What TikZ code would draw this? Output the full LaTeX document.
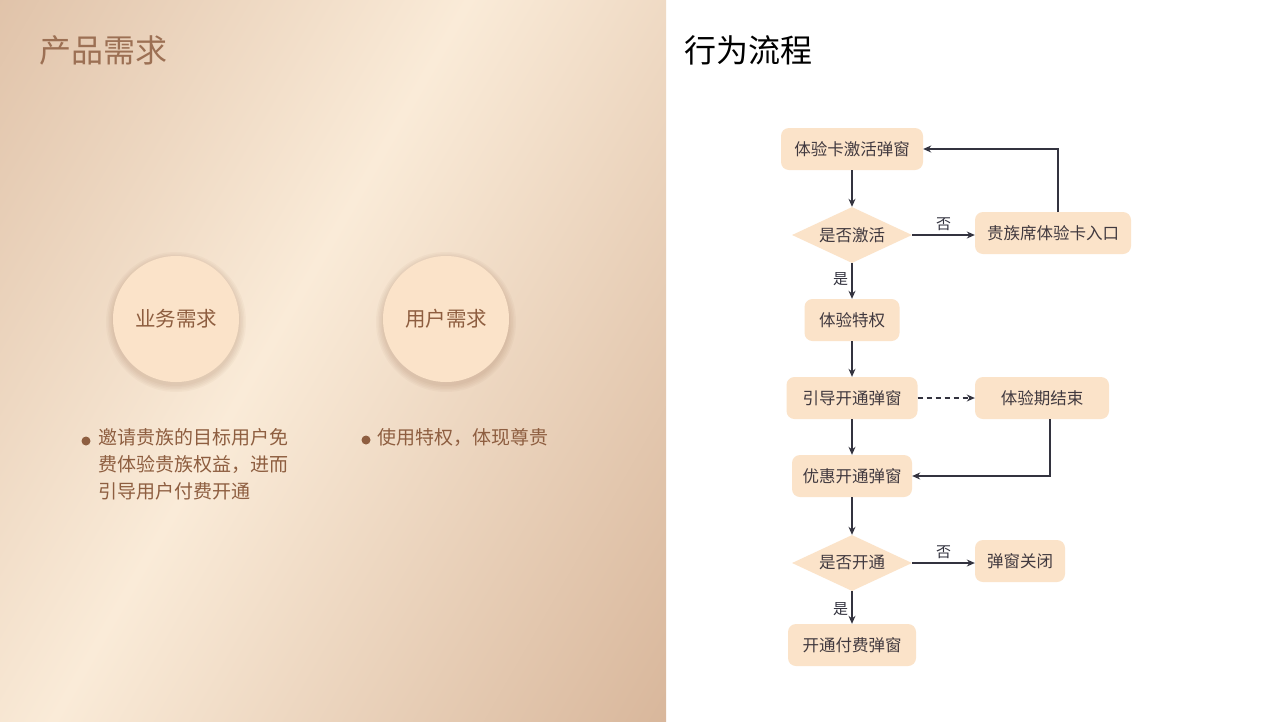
\documentclass[tikz,border=0pt]{standalone}
\usepackage{fontspec}
\setmainfont{Noto Sans CJK SC}
\usetikzlibrary{shapes.geometric,arrows.meta}
\definecolor{tan}{HTML}{CBA283}
\definecolor{cream}{HTML}{FAEBD8}
\definecolor{boxf}{HTML}{FBE3C9}
\definecolor{brown}{HTML}{8E5E40}
\definecolor{ttl}{HTML}{9C7054}
\definecolor{ink}{HTML}{33333F}
\begin{document}
\begin{tikzpicture}[x=1pt,y=-1pt,
  fbox/.style={fill=boxf,rounded corners=8pt,minimum height=42pt,font=\fontsize{16.5}{19}\selectfont,text=ink!85!brown,inner xsep=0pt},
  fdia/.style={diamond,aspect=2.15,fill=boxf,minimum width=120pt,minimum height=56pt,inner sep=0pt,font=\fontsize{16.5}{19}\selectfont,text=ink!85!brown},
  arr/.style={-{Stealth[length=8pt,width=7pt]},draw=ink,line width=1.2pt},
  lab/.style={font=\fontsize{15}{17}\selectfont,text=ink},
  circ/.style={circle,fill=boxf,minimum size=126pt,font=\fontsize{20.5}{24}\selectfont,text=brown},
  halo/.style={fill=brown,fill opacity=0.045},
  bul/.style={font=\fontsize{19}{27}\selectfont,text=brown,anchor=north west,align=left,inner sep=0pt}]
\useasboundingbox (0,0) rectangle (1280,721);
\fill[white] (0,0) rectangle (1280,721);
\begin{scope}
\clip (0,0) rectangle (666,721);
\shade[left color=tan,right color=tan,middle color=cream,shading angle=60] (-460,-440) rectangle (1040,1060);
\end{scope}
\node[anchor=west,font=\fontsize{32}{36}\selectfont,text=ttl] (t1) at (36,50) {产品需求};
\node[anchor=west,font=\fontsize{32}{36}\selectfont,text=black] (t2) at (681,50) {行为流程};
\foreach \cx in {176,446}{
  \foreach \r in {64,65.5,67,68.5,70}{\fill[halo] (\cx,322) circle (\r pt);}
}
\node[circ] (c1) at (176,319) {业务需求};
\node[circ] (c2) at (446,319) {用户需求};
\fill[brown] (86,441) circle (4.5pt);
\node[bul] (b1) at (98,428) {邀请贵族的目标用户免\\费体验贵族权益，进而\\引导用户付费开通};
\fill[brown] (366,440) circle (4.5pt);
\node[bul] (b2) at (377,428) {使用特权，体现尊贵};

\node[fbox,minimum width=142pt] (n1) at (852,149) {体验卡激活弹窗};
\node[fdia] (d1) at (852,235) {是否激活};
\node[fbox,minimum width=156pt] (n2) at (1053,233) {贵族席体验卡入口};
\node[fbox,minimum width=95pt] (n3) at (852,320) {体验特权};
\node[fbox,minimum width=131pt] (n4) at (852,398) {引导开通弹窗};
\node[fbox,minimum width=134pt] (n5) at (1042,398) {体验期结束};
\node[fbox,minimum width=120pt] (n6) at (852,476) {优惠开通弹窗};
\node[fdia] (d2) at (852,563) {是否开通};
\node[fbox,minimum width=90pt] (n7) at (1020,561) {弹窗关闭};
\node[fbox,minimum width=128pt] (n8) at (852,645) {开通付费弹窗};

\draw[arr] (n1) -- (d1);
\draw[arr] (d1) -- node[lab,above]{否} (d1 -| n2.west);
\draw[arr] (d1) -- node[lab,left,pos=0.45]{是} (n3);
\draw[arr] (n3) -- (n4);
\draw[arr,dash pattern=on 5pt off 4pt] (n4) -- (n5);
\draw[arr] (n4) -- (n6);
\draw[arr] (n6) -- (d2);
\draw[arr] (d2) -- node[lab,above]{否} (d2 -| n7.west);
\draw[arr] (d2) -- node[lab,left,pos=0.55]{是} (n8);
\coordinate (k1) at (1058,149);
\draw[arr] (1058,212) -- (k1) -- (n1.east);
\coordinate (k2) at (1050,476);
\draw[arr] (1050,419) -- (k2) -- (n6.east);
\end{tikzpicture}
\end{document}
